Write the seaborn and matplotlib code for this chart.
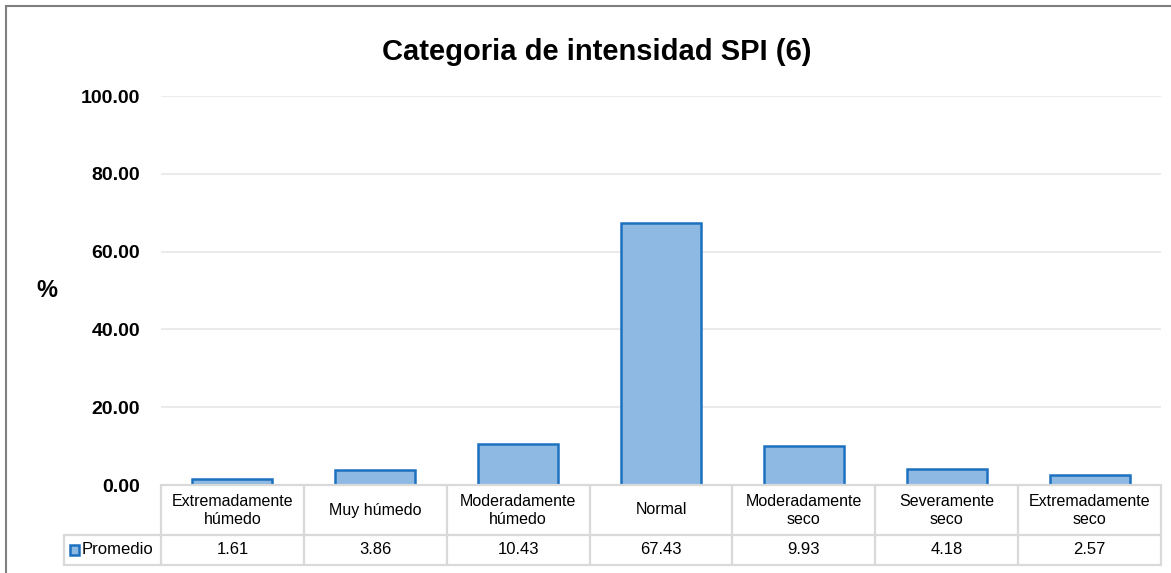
import seaborn as sns
import matplotlib.pyplot as plt
import pandas as pd
import numpy as np
from matplotlib.patches import Rectangle
from matplotlib.lines import Line2D
import matplotlib.transforms as mtransforms

# Chart data
categories = ['Extremadamente\nhúmedo', 'Muy húmedo', 'Moderadamente\nhúmedo', 'Normal',
              'Moderadamente\nseco', 'Severamente\nseco', 'Extremadamente\nseco']
promedio = [1.61, 3.86, 10.43, 67.43, 9.93, 4.18, 2.57]
series_name = 'Promedio'
y_ticks = [0, 20, 40, 60, 80, 100]
title = 'Categoria de intensidad SPI (6)'

df = pd.DataFrame({'categoria': categories, 'valor': promedio})

sns.set_style('white')
plt.rcParams['font.family'] = ['Liberation Sans', 'DejaVu Sans']
plt.rcParams['text.color'] = 'black'
plt.rcParams['ytick.color'] = 'black'

W, H = 1171, 573
fig = plt.figure(figsize=(W / 100, H / 100), dpi=100)

left, right, top, bottom = 161, 1161, 96, 485
ax = fig.add_axes([left / W, 1 - bottom / H, (right - left) / W, (bottom - top) / H])

fill_col = '#8DB9E2'
edge_col = '#1C70C0'
sns.barplot(data=df, x='categoria', y='valor', color=fill_col, width=0.56,
            edgecolor=edge_col, linewidth=1.8, saturation=1, ax=ax, zorder=3)

ax.set_xlim(-0.5, len(categories) - 0.5)
ax.set_ylim(0, 100)
ax.set_yticks(y_ticks)
ax.set_yticklabels([f'{v:.2f}' for v in y_ticks], fontsize=14, fontweight='bold')
ax.tick_params(axis='y', length=0, pad=15)
ax.set_xticks([])
ax.set_xlabel('')
ax.set_ylabel('')
for s in ax.spines.values():
    s.set_visible(False)
for v in y_ticks[1:]:
    ax.axhline(v, color='#EBEBEB', lw=1.5, zorder=1)

# Title and axis label
fig.text(597 / W, 1 - 52 / H, title, ha='center', va='center',
         fontsize=21, fontweight='bold')
fig.text(47 / W, 1 - 290 / H, '%', ha='center', va='center', fontsize=17, fontweight='bold')

# Data table under the axis
trans = mtransforms.blended_transform_factory(ax.transData, ax.transAxes)
ah = bottom - top
y0 = 0.0
y1 = -50 / ah
y2 = -80 / ah
grid_col = '#D9D9D9'
n = len(categories)
legend_left = -0.5 - 97 / ((right - left) / n)

def hline(x_a, x_b, y):
    ax.add_line(Line2D([x_a, x_b], [y, y], transform=trans, color=grid_col, lw=1.6,
                       clip_on=False, zorder=4))

def vline(x, y_a, y_b):
    ax.add_line(Line2D([x, x], [y_a, y_b], transform=trans, color=grid_col, lw=1.6,
                       clip_on=False, zorder=4))

hline(-0.5, n - 0.5, y0)
hline(legend_left, n - 0.5, y1)
hline(legend_left, n - 0.5, y2)
for i in range(n + 1):
    vline(i - 0.5, y0, y2)
vline(legend_left, y1, y2)

for i, (cat, val) in enumerate(zip(categories, promedio)):
    ax.text(i, (y0 + y1) / 2, cat, transform=trans, ha='center', va='center',
            fontsize=11.5, linespacing=1.25, clip_on=False)
    ax.text(i, (y1 + y2) / 2, f'{val:.2f}', transform=trans, ha='center', va='center',
            fontsize=12, clip_on=False)

# Legend key inside the row label cell
ax.add_patch(Rectangle((legend_left + 0.04, (y1 + y2) / 2 - 0.0125), 0.062, 0.025,
                       transform=trans, facecolor=fill_col, edgecolor=edge_col, lw=1.8,
                       clip_on=False, zorder=5))
ax.text(legend_left + 0.12, (y1 + y2) / 2, series_name, transform=trans, ha='left',
        va='center', fontsize=12, clip_on=False)

# Outer chart border (only top and left visible in the reference crop)
fig.add_artist(Line2D([6 / W, 6 / W], [0, 1 - 6 / H], color='#7F7F7F', lw=1.5,
                      transform=fig.transFigure))
fig.add_artist(Line2D([6 / W, 1], [1 - 6 / H, 1 - 6 / H], color='#7F7F7F', lw=1.5,
                      transform=fig.transFigure))

fig.savefig('out.png', dpi=100)
